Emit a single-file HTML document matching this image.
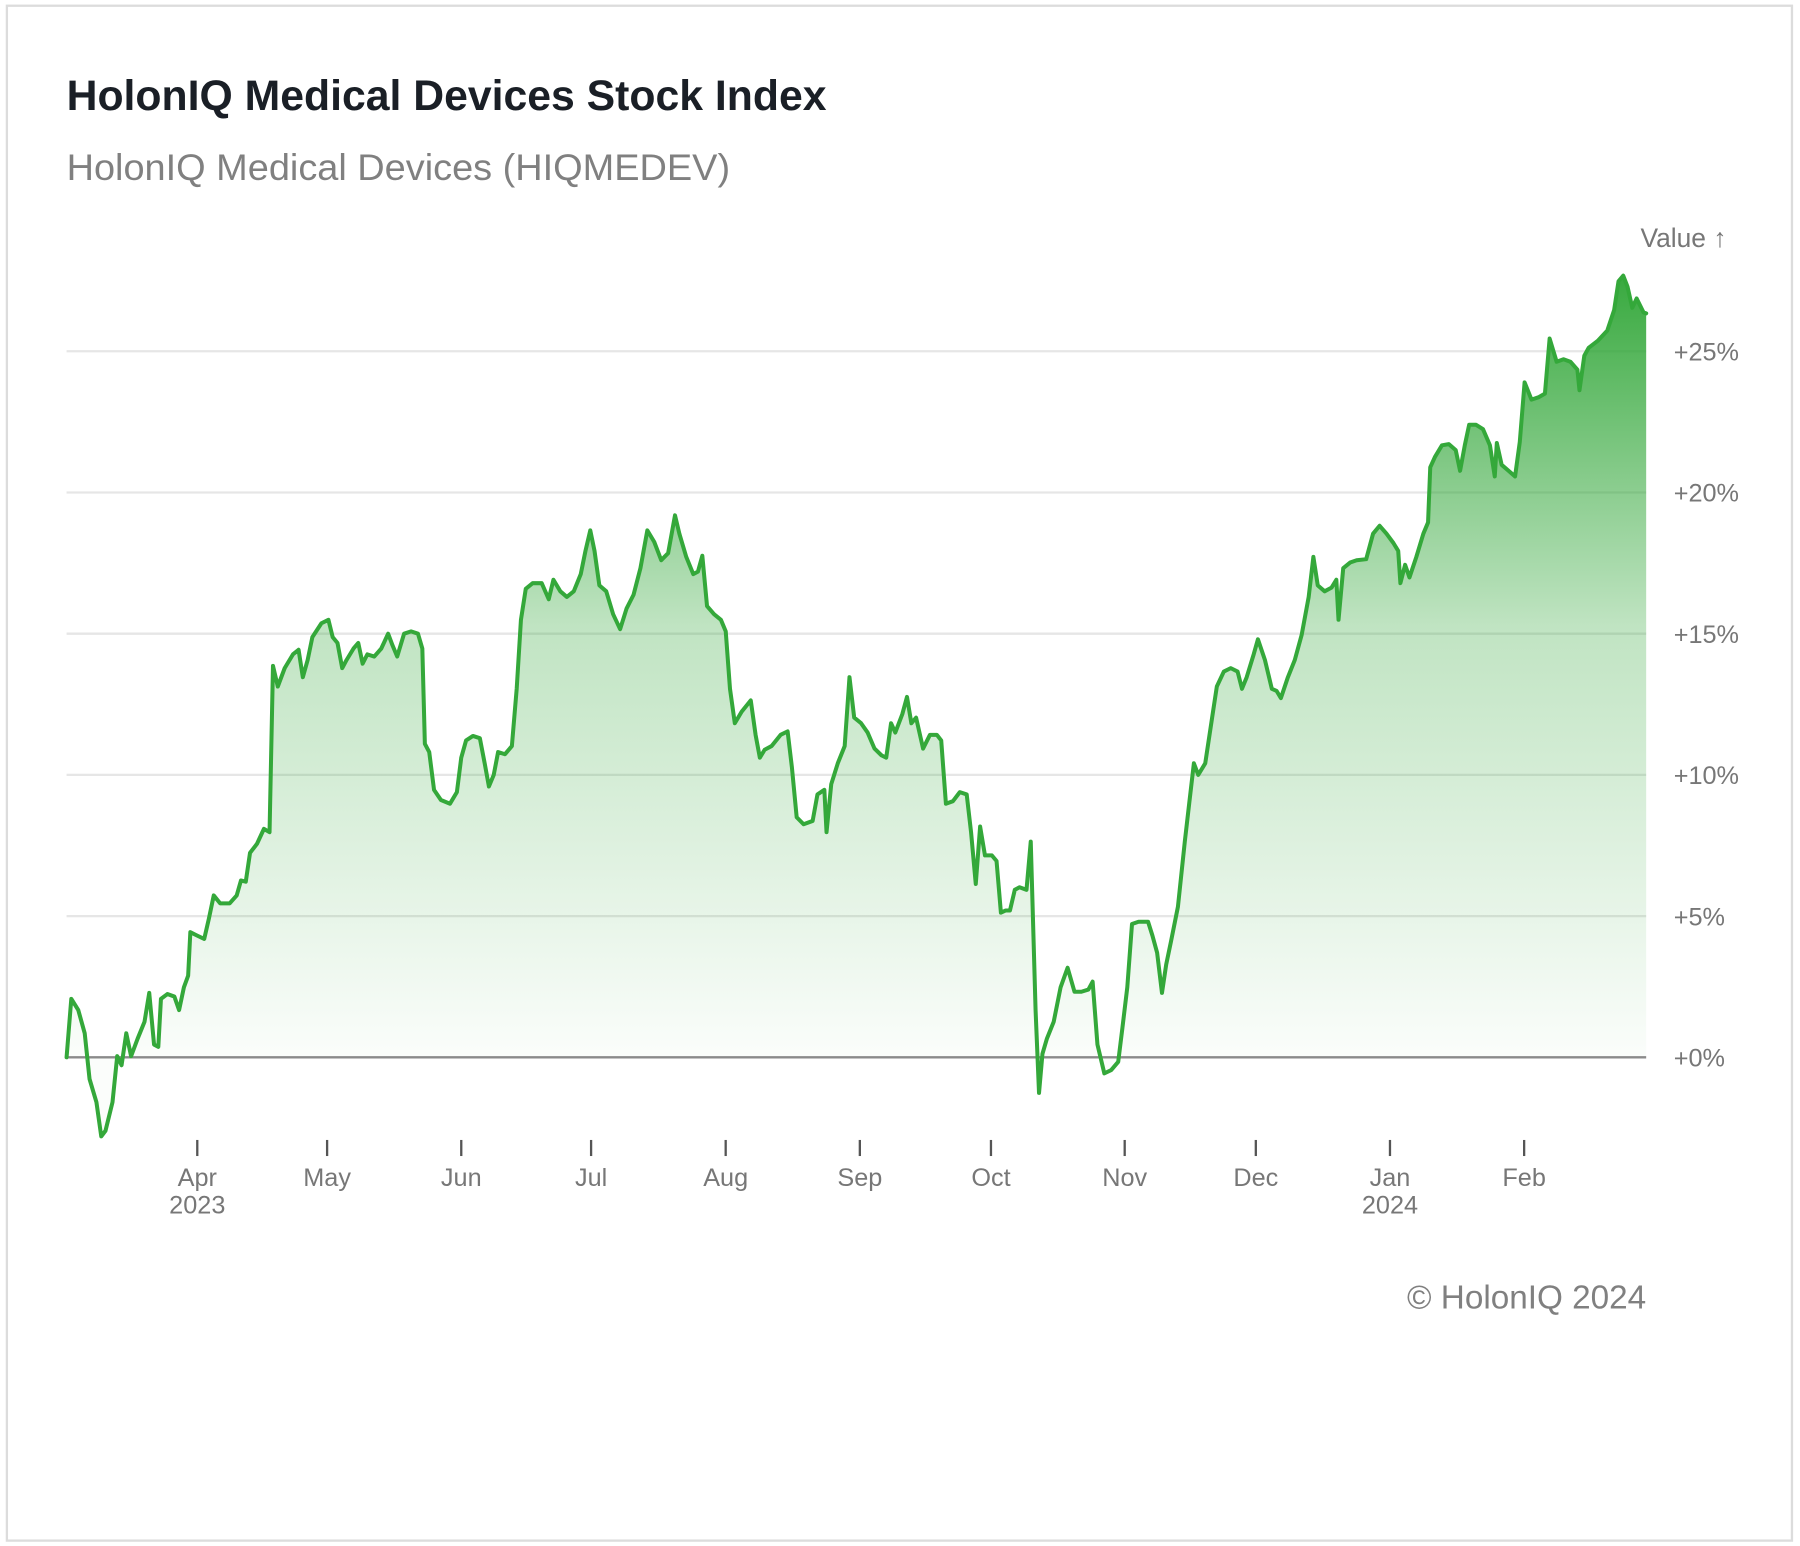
<!DOCTYPE html>
<html><head><meta charset="utf-8"><style>
html,body{margin:0;padding:0;background:#fff;}
svg{display:block;}
text{font-family:"Liberation Sans",sans-serif;}
</style></head><body>
<svg id="chart" width="1800" height="1546" viewBox="0 0 1568 1346.7" preserveAspectRatio="none" xmlns="http://www.w3.org/2000/svg">
<defs>
<linearGradient id="fillGrad" gradientUnits="userSpaceOnUse" x1="0" y1="240" x2="0" y2="921">
<stop offset="0" stop-color="#2ea535" stop-opacity="0.95"/>
<stop offset="0.45" stop-color="#2ea535" stop-opacity="0.3"/>
<stop offset="1" stop-color="#2ea535" stop-opacity="0.02"/>
</linearGradient>
</defs>
<rect x="6" y="5" width="1555" height="1337" fill="#fff" stroke="#dcdcdc" stroke-width="2"/>
<text x="58" y="96" font-size="37" font-weight="bold" fill="#1a1f26" textLength="662" lengthAdjust="spacingAndGlyphs">HolonIQ Medical Devices Stock Index</text>
<text x="58" y="157" font-size="32" fill="#808080" textLength="578" lengthAdjust="spacingAndGlyphs">HolonIQ Medical Devices (HIQMEDEV)</text>
<text x="1504" y="215" font-size="23" fill="#777" text-anchor="end">Value ↑</text>
<g id="grid"></g>
<g id="series"></g>
<g id="xaxis"></g>
<text x="1434" y="1140" font-size="29" fill="#808080" text-anchor="end">© HolonIQ 2024</text>
</svg>
<script>
const days = [0,1.1,2.7,4.2,5.3,6.9,8.0,9.0,10.6,11.7,12.7,13.8,14.9,16.4,18.0,19.1,20.2,21.2,21.8,23.3,24.9,26.0,27.1,28.1,28.6,30.2,31.8,32.9,34.0,35.5,37.7,39.3,40.3,41.4,42.4,44.0,45.6,46.9,47.7,48.8,50.4,52.3,53.6,54.6,55.7,56.8,58.9,60.5,61.5,62.6,63.7,64.7,66.3,67.4,68.4,69.5,71.1,72.7,74.3,75.3,76.4,78.0,79.6,81.2,82.2,82.8,83.8,84.9,86.5,88.6,90.2,91.2,92.3,93.9,95.5,96.6,97.6,98.7,99.7,101.3,102.9,104.0,105.0,106.1,107.7,109.8,111.4,112.5,114.1,115.6,117.2,118.8,119.9,121.0,122.0,123.1,124.7,126.3,127.9,129.4,131.0,132.6,134.2,135.8,137.4,139.0,140.6,141.6,143.2,144.8,145.9,146.9,148.0,149.6,151.2,152.3,153.3,154.4,156.0,158.1,159.2,160.2,161.3,162.9,165.0,166.6,167.6,168.7,170.3,172.4,173.5,175.1,175.6,176.7,178.2,179.8,180.9,182.0,183.6,185.1,186.7,188.3,189.4,190.5,191.5,193.1,194.2,195.2,196.3,197.9,199.5,201.1,202.1,203.2,204.8,206.4,208.0,209.0,210.1,211.1,212.2,213.8,214.9,215.9,217.0,218.0,219.1,220.2,221.8,222.8,223.9,224.7,225.5,226.5,228.1,229.7,231.3,232.9,234.5,236.1,237.1,238.2,239.8,241.4,243.0,244.0,245.1,246.2,247.7,249.9,250.9,252.0,253.1,254.1,255.2,256.8,258.4,259.4,260.5,261.5,263.1,264.7,265.8,267.4,269.0,270.6,271.6,272.7,274.3,275.3,276.9,278.5,279.6,280.6,282.2,283.8,285.4,287.0,288.1,289.1,290.7,292.3,293.4,293.9,295.0,296.6,298.1,300.3,301.9,303.4,305.0,306.6,307.7,308.2,309.3,310.3,311.9,313.5,314.6,315.1,316.2,317.8,319.4,321.0,322.0,323.1,324.1,325.7,327.3,328.9,330.0,330.5,331.6,333.2,334.7,335.8,336.9,338.5,340.1,341.6,342.7,344.3,345.9,347.5,349.1,349.6,350.7,351.7,353.8,356.0,357.6,358.6,359.7,360.7,361.8,362.8,364.4,365.0];
const values = [0,2.07,1.67,0.85,-0.77,-1.59,-2.80,-2.60,-1.59,0.04,-0.28,0.85,0.04,0.65,1.26,2.28,0.45,0.37,2.07,2.24,2.15,1.67,2.48,2.89,4.43,4.31,4.19,4.92,5.73,5.45,5.45,5.73,6.26,6.22,7.24,7.56,8.09,7.97,13.86,13.13,13.78,14.27,14.43,13.46,14.07,14.88,15.37,15.49,14.88,14.67,13.78,14.07,14.47,14.67,13.94,14.27,14.19,14.47,15.00,14.59,14.19,15.00,15.08,15.00,14.47,11.10,10.81,9.47,9.11,8.98,9.39,10.61,11.22,11.38,11.30,10.41,9.59,10.00,10.81,10.73,11.02,13.05,15.49,16.59,16.79,16.79,16.22,16.91,16.50,16.30,16.50,17.11,17.93,18.66,17.93,16.71,16.50,15.69,15.16,15.89,16.38,17.32,18.66,18.25,17.60,17.85,19.19,18.54,17.72,17.11,17.20,17.76,15.98,15.69,15.49,15.08,13.05,11.83,12.24,12.64,11.42,10.61,10.89,11.02,11.42,11.54,10.28,8.50,8.25,8.37,9.31,9.47,7.97,9.67,10.41,11.02,13.46,12.03,11.83,11.50,10.93,10.69,10.61,11.83,11.50,12.15,12.76,11.83,12.03,10.93,11.42,11.42,11.22,8.98,9.07,9.39,9.31,7.97,6.14,8.17,7.15,7.15,6.95,5.12,5.20,5.20,5.93,6.02,5.93,7.64,1.67,-1.26,0.12,0.65,1.26,2.48,3.17,2.32,2.32,2.40,2.68,0.45,-0.57,-0.45,-0.16,1.06,2.48,4.72,4.80,4.80,4.31,3.70,2.28,3.29,4.11,5.33,7.64,8.98,10.41,10.00,10.41,12.03,13.13,13.66,13.78,13.66,13.05,13.46,14.27,14.80,14.07,13.05,12.97,12.72,13.46,14.07,14.96,16.30,17.72,16.71,16.50,16.63,16.91,15.49,17.32,17.52,17.60,17.64,18.54,18.82,18.54,18.21,17.93,16.79,17.44,16.99,17.72,18.54,18.94,20.89,21.26,21.67,21.71,21.50,20.77,21.67,22.40,22.40,22.24,21.67,20.57,21.75,20.98,20.77,20.57,21.79,23.90,23.29,23.37,23.50,25.45,24.63,24.72,24.63,24.35,23.62,24.84,25.12,25.37,25.73,26.46,27.48,27.68,27.28,26.54,26.87,26.38,26.34];
const yTicks = [0,5,10,15,20,25];
const yTickLabels = ["+0%","+5%","+10%","+15%","+20%","+25%"];
const monthDays = [30.2,60.2,91.2,121.2,152.3,183.3,213.6,244.5,274.8,305.8,336.8];
const monthLabels = ["Apr","May","Jun","Jul","Aug","Sep","Oct","Nov","Dec","Jan","Feb"];
const yearLabels = ["2023","","","","","","","","","2024",""];

const NS="http://www.w3.org/2000/svg";
const X0=58, X1=1434, DMAX=365;
const xs = d => X0 + d*(X1-X0)/DMAX;
const ys = v => 921 - v*24.6;
function mk(tag, attrs, parent){const e=document.createElementNS(NS,tag);for(const k in attrs)e.setAttribute(k,attrs[k]);parent.appendChild(e);return e;}

const grid=document.getElementById('grid');
yTicks.forEach((t,i)=>{
  if(t!==0){
    const l=mk('line',{x1:X0,x2:X1,y1:ys(t),y2:ys(t),stroke:'#e6e6e6','stroke-width':2},grid);
    
    
  }
  const tx=mk('text',{x:1458,y:ys(t)+8,'font-size':22,fill:'#777'},grid);
  tx.textContent=yTickLabels[i];
  
  
});

const ser=document.getElementById('series');
let pts=days.map((d,i)=>xs(d).toFixed(1)+','+ys(values[i]).toFixed(1));
const area=mk('path',{d:'M'+xs(days[0])+','+ys(0)+' L'+pts.join(' L')+' L'+xs(days[days.length-1])+','+ys(0)+' Z',fill:'url(#fillGrad)'},ser);


const zl=mk('line',{x1:X0,x2:X1,y1:ys(0),y2:ys(0),stroke:'#8a8a8a','stroke-width':2},ser);


const line=mk('path',{d:'M'+pts.join(' L'),fill:'none',stroke:'#34a83a','stroke-width':3.5,'stroke-linejoin':'round','stroke-linecap':'round'},ser);



const xa=document.getElementById('xaxis');
monthDays.forEach((d,i)=>{
  const x=xs(d);
  const tk=mk('line',{x1:x,x2:x,y1:993,y2:1007,stroke:'#555','stroke-width':2},xa);
  
  
  const t=mk('text',{x:x,y:1033,'font-size':22,fill:'#777','text-anchor':'middle'},xa);
  t.textContent=monthLabels[i];
  
  
  if(yearLabels[i]){
    const y=mk('text',{x:x,y:1057,'font-size':22,fill:'#777','text-anchor':'middle'},xa);
    y.textContent=yearLabels[i];
    
    
  }
});
</script>
</body></html>
